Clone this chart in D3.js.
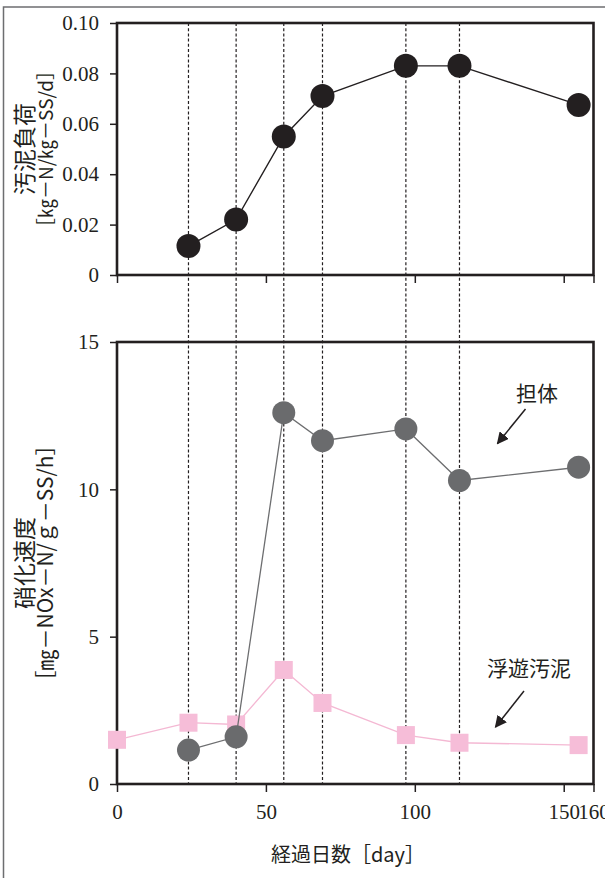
<!DOCTYPE html>
<html><head><meta charset="utf-8">
<script src="https://cdn.jsdelivr.net/npm/d3@7"></script>
<style>
html,body{margin:0;padding:0;background:#fff;overflow:hidden;}
svg{display:block;}
.num{font-family:"Liberation Serif","Tinos","Times New Roman","DejaVu Serif",serif;}
.jp{font-family:"Noto Sans CJK JP","Noto Sans",sans-serif;}
</style></head>
<body>
<script>
// ---- data ----
const loadDays = [24, 40, 56, 69, 97, 115, 155];
const sludgeLoad = [0.0115, 0.022, 0.055, 0.071, 0.083, 0.083, 0.0675];
const carrierDays = [24, 40, 56, 69, 97, 115, 155];
const carrierRate = [1.15, 1.6, 12.6, 11.65, 12.05, 10.3, 10.75];
const suspendedDays = [0, 24, 40, 56, 69, 97, 115, 155];
const suspendedRate = [1.5, 2.08, 2.02, 3.87, 2.75, 1.66, 1.4, 1.32];
const guideDays = [24, 40, 56, 69, 97, 115];
const xTicks = [0, 50, 100, 150, 160];
const topYTicks = [0, 0.02, 0.04, 0.06, 0.08, 0.10];
const bottomYTicks = [0, 5, 10, 15];
const topYLabel = ["汚泥負荷", "［㎏－N/㎏－SS/d］"];
const bottomYLabel = ["硝化速度", "［㎎－NOx－N/ｇ－SS/h］"];
const xLabel = "経過日数［day］";
const annCarrier = "担体";
const annSuspended = "浮遊汚泥";

const W = 605, H = 878;
const ink = "#231f20";

const svg = d3.select("body").append("svg").attr("width", W).attr("height", H);

// outer frame
svg.append("rect").attr("x", 3.5).attr("y", 7).attr("width", 620).attr("height", 900)
  .attr("fill", "none").attr("stroke", "#6d6e70").attr("stroke-width", 1.5);

const left = 117, right = 593.5;
const topP = {y0: 23, y1: 275};
const botP = {y0: 342, y1: 784};

const x = d3.scaleLinear().domain([0, 160]).range([left, right]);
const yTop = d3.scaleLinear().domain([0, 0.10]).range([topP.y1, topP.y0]);
const yBot = d3.scaleLinear().domain([0, 15]).range([botP.y1, botP.y0]);

// guide dashed lines
svg.append("g").selectAll("line").data(guideDays).join("line")
  .attr("x1", d => x(d)).attr("x2", d => x(d))
  .attr("y1", topP.y0).attr("y2", botP.y1)
  .attr("stroke", ink).attr("stroke-width", 1.2).attr("stroke-dasharray", "3,2.2");

function styleAxis(g, fontSize) {
  g.attr("font-family", null);
  g.select(".domain").remove();
  g.selectAll(".tick line").attr("stroke", ink).attr("stroke-width", 1.5);
  g.selectAll(".tick text").attr("class", "num").attr("fill", ink)
    .style("font-size", fontSize + "px");
}

// top panel
const gTY = svg.append("g").attr("transform", `translate(${left},0)`)
  .call(d3.axisLeft(yTop).tickValues(topYTicks).tickSize(7).tickPadding(11)
    .tickFormat(d => d === 0 ? "0" : d.toFixed(2)));
styleAxis(gTY, 21);
const gTX = svg.append("g").attr("transform", `translate(0,${topP.y1})`)
  .call(d3.axisBottom(x).tickValues(xTicks).tickSize(8).tickFormat(""));
styleAxis(gTX, 21);

svg.append("rect").attr("x", left).attr("y", topP.y0).attr("width", right - left)
  .attr("height", topP.y1 - topP.y0).attr("fill", "none").attr("stroke", ink).attr("stroke-width", 2.6);

const loadData = loadDays.map((d, i) => [d, sludgeLoad[i]]);
svg.append("path").datum(loadData)
  .attr("d", d3.line().x(d => x(d[0])).y(d => yTop(d[1])))
  .attr("fill", "none").attr("stroke", ink).attr("stroke-width", 1.4);
svg.append("g").selectAll("circle").data(loadData).join("circle")
  .attr("cx", d => x(d[0])).attr("cy", d => yTop(d[1])).attr("r", 12).attr("fill", ink);

// bottom panel
const gBY = svg.append("g").attr("transform", `translate(${left},0)`)
  .call(d3.axisLeft(yBot).tickValues(bottomYTicks).tickSize(7).tickPadding(11));
styleAxis(gBY, 21);
const gBX = svg.append("g").attr("transform", `translate(0,${botP.y1})`)
  .call(d3.axisBottom(x).tickValues(xTicks).tickSize(8).tickPadding(12));
styleAxis(gBX, 21);

svg.append("rect").attr("x", left).attr("y", botP.y0).attr("width", right - left)
  .attr("height", botP.y1 - botP.y0).attr("fill", "none").attr("stroke", ink).attr("stroke-width", 2.6);

const susData = suspendedDays.map((d, i) => [d, suspendedRate[i]]);
svg.append("path").datum(susData)
  .attr("d", d3.line().x(d => x(d[0])).y(d => yBot(d[1])))
  .attr("fill", "none").attr("stroke", "#f4b8d3").attr("stroke-width", 1.3);
svg.append("g").selectAll("rect").data(susData).join("rect")
  .attr("x", d => x(d[0]) - 9).attr("y", d => yBot(d[1]) - 9)
  .attr("width", 18).attr("height", 18).attr("fill", "#f6bdd8");

const carData = carrierDays.map((d, i) => [d, carrierRate[i]]);
svg.append("path").datum(carData)
  .attr("d", d3.line().x(d => x(d[0])).y(d => yBot(d[1])))
  .attr("fill", "none").attr("stroke", "#6d6e70").attr("stroke-width", 1.3);
svg.append("g").selectAll("circle").data(carData).join("circle")
  .attr("cx", d => x(d[0])).attr("cy", d => yBot(d[1])).attr("r", 11.5).attr("fill", "#6a6b6d");

// y labels
function yLabel(lines, cy, sizes) {
  const xs = [23, 44];
  lines.forEach((t, i) => {
    svg.append("text").attr("class", "jp").attr("transform", `translate(${xs[i]},${cy}) rotate(-90)`)
      .attr("text-anchor", "middle").attr("dominant-baseline", "central")
      .style("font-size", sizes[i] + "px").attr("fill", ink).text(t);
  });
}
yLabel(topYLabel, (topP.y0 + topP.y1) / 2, [23, 19]);
yLabel(bottomYLabel, (botP.y0 + botP.y1) / 2, [23, 21]);

// x label
svg.append("text").attr("class", "jp").attr("x", 348).attr("y", 853).attr("text-anchor", "middle")
  .attr("dominant-baseline", "central").style("font-size", "20px")
  .attr("fill", ink).text(xLabel);

// annotations
svg.append("defs").append("marker").attr("id", "ah").attr("viewBox", "0 0 10 10")
  .attr("refX", 9).attr("refY", 5).attr("markerWidth", 12).attr("markerHeight", 12)
  .attr("markerUnits", "userSpaceOnUse").attr("orient", "auto")
  .append("path").attr("d", "M0,0 L10,5 L0,10 z").attr("fill", ink);

function annotate(label, lx, ly, x1, y1, x2, y2) {
  svg.append("text").attr("class", "jp").attr("x", lx).attr("y", ly).attr("text-anchor", "middle")
    .attr("dominant-baseline", "central").style("font-size", "21px")
    .attr("fill", ink).text(label);
  svg.append("line").attr("x1", x1).attr("y1", y1).attr("x2", x2).attr("y2", y2)
    .attr("stroke", ink).attr("stroke-width", 1.5).attr("marker-end", "url(#ah)");
}
annotate(annCarrier, 537, 392, 525.5, 409, 497.5, 443.5);
annotate(annSuspended, 529, 667, 524, 691, 495.5, 727);
</script>
</body></html>
